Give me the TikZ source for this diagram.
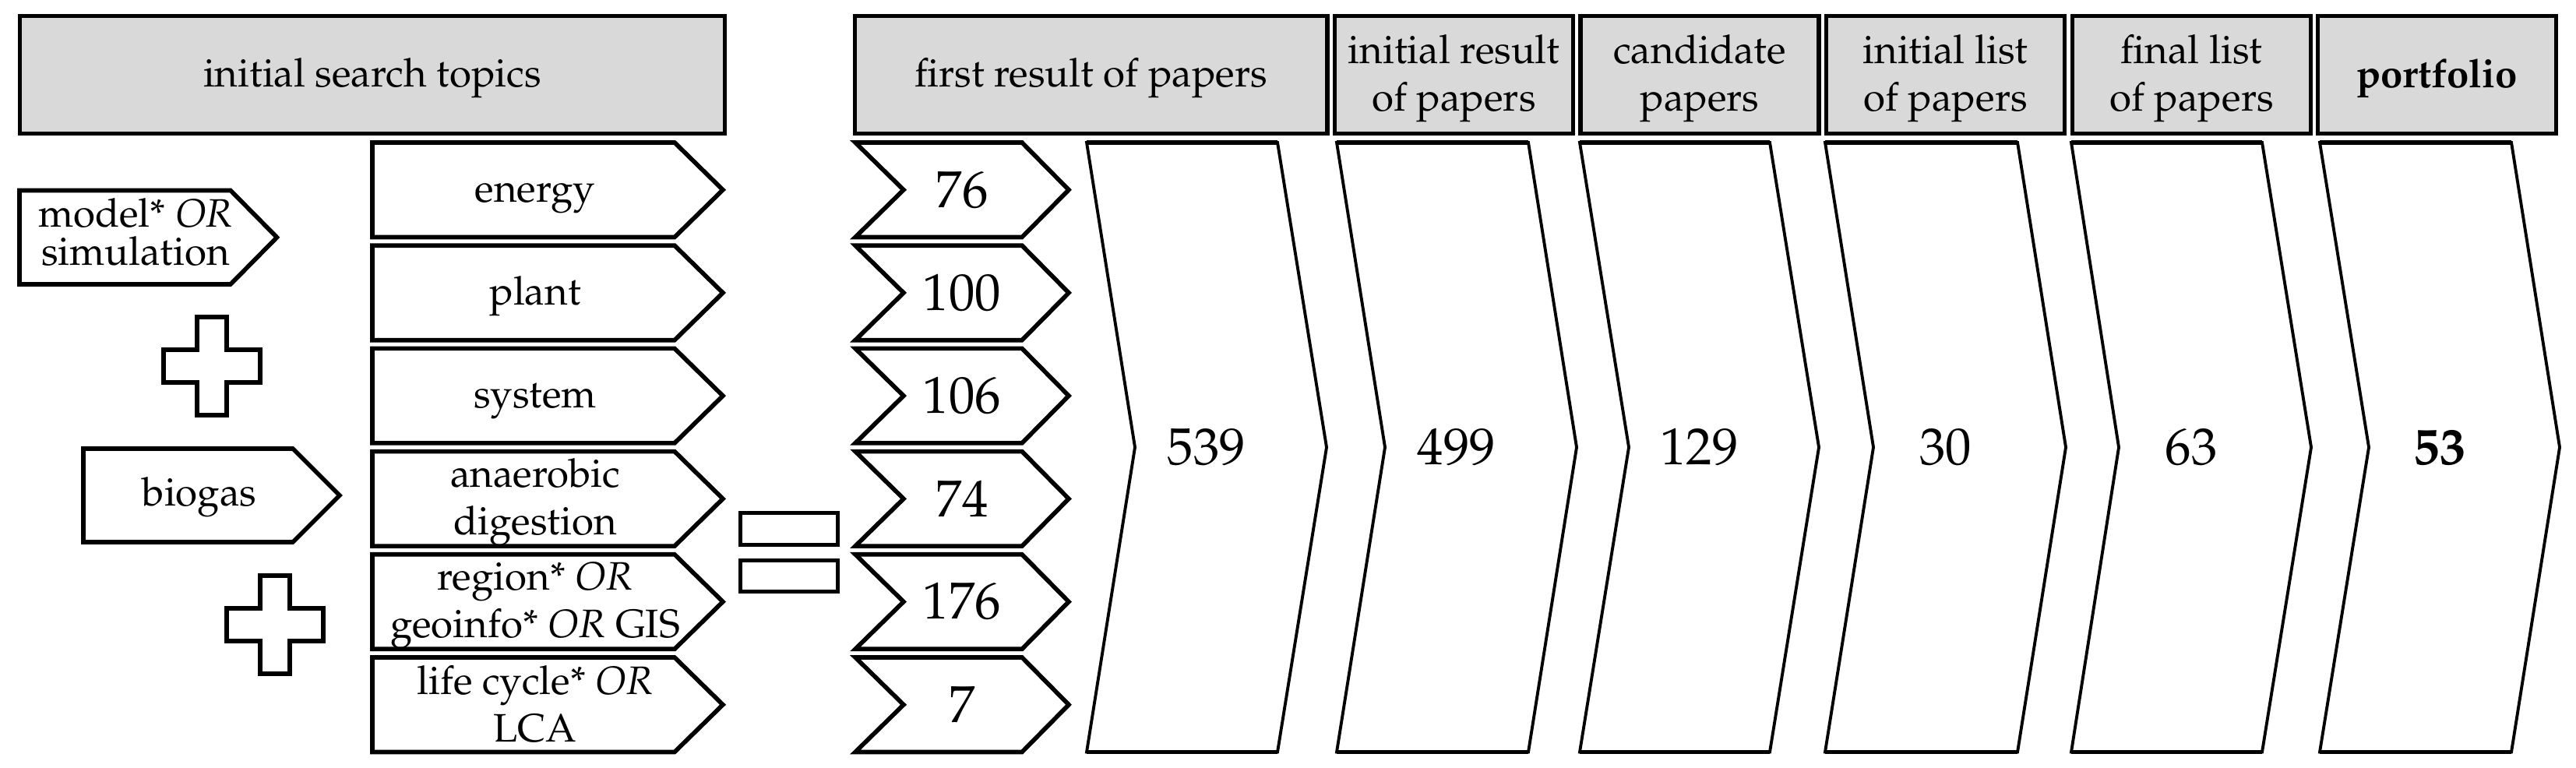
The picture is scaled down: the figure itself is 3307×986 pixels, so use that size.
\documentclass[tikz,border=0pt]{standalone}
\usepackage[T1]{fontenc}
\usepackage{mathpazo}
\definecolor{hdrgray}{HTML}{D9D9D9}
\newcommand\lblfont{\fontsize{14.5}{17.4}\selectfont\lineskiplimit=-100pt\relax}
\newcommand\mdlfont{\fontsize{14.5}{13.66}\selectfont\lineskiplimit=-100pt\relax}
\newcommand\numfont{\fontsize{19}{22}\selectfont}
\newcommand\ls{\rule[-0.11cm]{0pt}{0.57cm}}
\tikzset{
 hdrbox/.style={draw=black,line width=1.45pt,fill=hdrgray},
 chevbox/.style={draw=black,line width=1.6pt,fill=white,line join=miter},
 bigbox/.style={draw=black,line width=1.1pt,fill=white,line join=miter},
 bigedge/.style={draw=black,line width=1.7pt},
 signbox/.style={draw=black,line width=1.5pt,fill=white},
 lbl/.style={inner sep=0pt,align=center,font=\lblfont},
 mdl/.style={inner sep=0pt,align=center,font=\mdlfont},
 num/.style={inner sep=0pt,font=\numfont},
}
\begin{document}
\begin{tikzpicture}[x=0.01cm,y=-0.01cm]
\useasboundingbox (0,0) rectangle (3307,986);
% headers
\draw[hdrbox] (25.5,20.5) rectangle (930.5,171.5);
\node[lbl] (h0) at (478,96) {\ls initial search topics};
\draw[hdrbox] (1097.5,20.5) rectangle (1704,171.5);
\node[lbl] (h1) at (1400.75,96) {\ls first result of papers};
\draw[hdrbox] (1713.5,20.5) rectangle (2019.5,171.5);
\node[lbl] (h2) at (1866.5,96) {\ls initial result\\\ls of papers};
\draw[hdrbox] (2029,20.5) rectangle (2335,171.5);
\node[lbl] (h3) at (2182,96) {\ls candidate\\\ls papers};
\draw[hdrbox] (2344.5,20.5) rectangle (2650.5,171.5);
\node[lbl] (h4) at (2497.5,96) {\ls initial list\\\ls of papers};
\draw[hdrbox] (2660.5,20.5) rectangle (2966.5,171.5);
\node[lbl] (h5) at (2813.5,96) {\ls final list\\\ls of papers};
\draw[hdrbox] (2975.5,20.5) rectangle (3281.5,171.5);
\node[lbl] (h6) at (3128.5,96) {\ls\bfseries portfolio};
% left keyword chevrons
\draw[chevbox] (25,244.5) -- (296,244.5) -- (355.5,304.75) -- (296,365) -- (25,365) -- cycle;
\node[mdl] (model) at (174,298.5) {\ls model* \textit{OR}\\\ls simulation};
\draw[chevbox] (107,576) -- (376,576) -- (436,636) -- (376,696) -- (107,696) -- cycle;
\node[lbl] (biogas) at (256,634) {\ls biogas};
% plus signs
\begin{scope}[shift={(272,470)}]
\draw[signbox] (-19,-63) -- (19,-63) -- (19,-21) -- (62,-21) -- (62,21) -- (19,21) -- (19,63) -- (-19,63) -- (-19,21) -- (-62,21) -- (-62,-21) -- (-19,-21) -- cycle;
\end{scope}
\begin{scope}[shift={(353,802)}]
\draw[signbox] (-19,-63) -- (19,-63) -- (19,-21) -- (62,-21) -- (62,21) -- (19,21) -- (19,63) -- (-19,63) -- (-19,21) -- (-62,21) -- (-62,-21) -- (-19,-21) -- cycle;
\end{scope}
% equals sign
\draw[signbox] (950.5,658.5) rectangle (1075.5,699.5);
\draw[signbox] (950.5,719.5) rectangle (1075.5,759.5);
% topic and count chevrons
\foreach \i in {0,...,5}{
 \pgfmathsetmacro\tp{183+132.2*\i}
 \pgfmathsetmacro\bt{\tp+121.5}
 \pgfmathsetmacro\md{\tp+60.75}
 \draw[chevbox] (478,\tp) -- (866,\tp) -- (928,\md) -- (866,\bt) -- (478,\bt) -- cycle;
 \draw[chevbox] (1098,\tp) -- (1312,\tp) -- (1372,\md) -- (1312,\bt) -- (1098,\bt) -- (1160,\md) -- cycle;
}
\node[lbl] (t0) at (687,243.75) {\ls energy};
\node[lbl] (t1) at (687,375.95) {\ls plant};
\node[lbl] (t2) at (687,508.15) {\ls system};
\node[lbl] (t3) at (687,640.35) {\ls anaerobic\\\ls digestion};
\node[lbl] (t4) at (687,772.55) {\ls region* \textit{OR}\\\ls geoinfo* \textit{OR} GIS};
\node[lbl] (t5) at (687,904.75) {\ls life cycle* \textit{OR}\\\ls LCA};
\node[num] (n0) at (1235,243.75) {76};
\node[num] (n1) at (1235,375.95) {100};
\node[num] (n2) at (1235,508.15) {106};
\node[num] (n3) at (1235,640.35) {74};
\node[num] (n4) at (1235,772.55) {176};
\node[num] (n5) at (1235,904.75) {7};
% big stage chevrons
\foreach \L/\N/\R/\T/\v/\k in {1395/1457/1640/1703/539/1, 1716/1778/1962/2024/499/2, 2028/2091/2272/2335/129/3, 2343/2405/2590/2652/30/4, 2659/2720/2904/2967/63/5, 2978/3041/3224/3286/{\bfseries 53}/6}{
 \draw[bigbox] (\L,183) -- (\R,183) -- (\T,574.25) -- (\R,965.5) -- (\L,965.5) -- (\N,574.25) -- cycle;
 \draw[bigedge] (\L,183) -- (\R,183) (\L,965.5) -- (\R,965.5);
 \pgfmathsetmacro\cx{(\L+\T)/2}
 \node[num] (b\k) at (\cx,574.25) {\v};
}
\end{tikzpicture}
\end{document}
